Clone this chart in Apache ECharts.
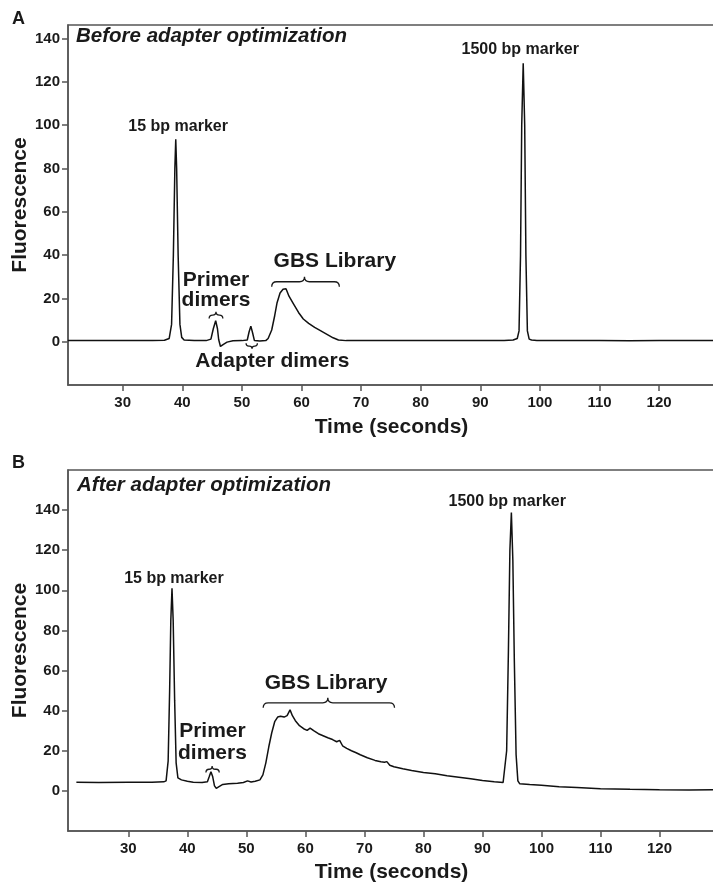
<!DOCTYPE html>
<html><head><meta charset="utf-8">
<script src="https://cdn.jsdelivr.net/npm/echarts@6/dist/echarts.min.js"></script>
<style>html,body{margin:0;padding:0;background:#fff}#c{width:713px;height:884px}</style>
</head><body><div id="c"></div>
<script>
// ---------- data ----------
const xTicks = [30, 40, 50, 60, 70, 80, 90, 100, 110, 120];
const yTicks = [0, 20, 40, 60, 80, 100, 120, 140];

const timeA = [20.8, 25, 30, 35, 37, 37.8, 38.2, 38.5, 38.75, 38.9, 39.05, 39.3, 39.6, 39.9, 40.3, 42, 44, 44.8, 45.2, 45.6, 45.9, 46.1, 46.4, 46.9, 47.5, 48.5, 50, 50.9, 51.2, 51.5, 51.8, 52.1, 52.4, 53.0, 54, 54.4, 55, 55.5, 55.9, 56.4, 56.9, 57.4, 57.9, 58.6, 59.5, 60.3, 61.2, 62.2, 63.1, 64.2, 65.3, 66.2, 67.5, 70, 75, 80, 85, 90, 94, 95.5, 96.2, 96.5, 96.75, 96.95, 97.2, 97.45, 97.65, 97.9, 98.2, 98.6, 99.5, 105, 110, 115, 120, 125, 129.4];
const fluorA = [0.5, 0.5, 0.6, 0.5, 0.7, 1.5, 8, 40, 80, 93.5, 80, 40, 8, 2, 0.8, 0.6, 0.5, 1.2, 6, 9.7, 6, 1.0, -2.2, -1.2, -0.2, 0.4, 0.5, 0.8, 4.5, 7.2, 4, 0.5, -0.3, 0.3, 0.5, 1.5, 5.4, 12, 18, 22.5, 24.2, 24.5, 21, 17.7, 13.5, 10.5, 8.5, 6.6, 5.2, 3.5, 1.8, 0.8, 0.5, 0.6, 0.6, 0.5, 0.6, 0.6, 0.6, 0.8, 1.5, 5, 40, 100, 128.6, 100, 40, 5, 1.2, 0.8, 0.6, 0.5, 0.6, 0.4, 0.5, 0.5, 0.5];

const timeB = [21.2, 25, 30, 34, 36, 36.4, 36.75, 37.0, 37.2, 37.4, 37.6, 37.85, 38.1, 38.4, 39, 40, 41, 42.5, 43.4, 43.7, 44.0, 44.3, 44.6, 44.9, 45.3, 46, 47, 48.5, 49.5, 50.2, 50.8, 51.5, 52.3, 52.8, 53.3, 53.8, 54.3, 54.8, 55.3, 55.8, 56.4, 56.9, 57.4, 57.8, 58.3, 59.0, 59.7, 60.3, 60.8, 61.4, 62.2, 63.0, 63.8, 64.6, 65.3, 65.8, 66.3, 67.0, 67.8, 68.6, 69.3, 70.5, 71.8, 72.8, 73.4, 73.8, 74.3, 75, 76.5, 78, 80, 82, 84, 86, 88, 90, 92, 93.5, 93.8, 94.1, 94.4, 94.65, 94.9, 95.15, 95.4, 95.7, 96, 96.3, 98, 100, 103, 106, 110, 115, 120, 125, 129.4];
const fluorB = [4.3, 4.2, 4.3, 4.3, 4.5, 5, 15, 50, 85, 101, 85, 45, 14, 6.5, 5.5, 4.8, 4.3, 4.2, 4.6, 7, 9.6, 7, 2.5, 1.3, 2, 3.2, 3.6, 3.8, 4.2, 5, 4.4, 4.8, 5.5, 8, 14, 22, 29, 34.5, 36.8, 37.2, 36.8, 37.5, 40.4, 37.5, 35, 32.5, 31, 30.2, 31.3, 30, 28.5, 27.5, 26.5, 25.6, 24.5, 25.2, 22.5, 21.2, 20, 19, 18, 16.5, 15.2, 14.5, 14.3, 14.6, 12.8, 12, 11, 10.2, 9.2, 8.5, 7.6, 6.8, 6, 5.2, 4.5, 4.2, 5, 20, 70, 120, 138.8, 115, 65, 18, 5, 3.6, 3.2, 2.8, 2.1, 1.7, 1.1, 0.8, 0.6, 0.5, 0.6];

// annotation anchors in data coordinates [time, fluorescence, text]
const markerLabelsA = [[39.3, 99.3, '15 bp marker'], [96.7, 135.1, '1500 bp marker']];
const regionLabelsA = [[45.65, 23.8, 'Primer\ndimers'], [55.1, -9.2, 'Adapter dimers'], [65.6, 37.0, 'GBS Library']];
const markerLabelsB = [[37.73, 106.1, '15 bp marker'], [94.2, 144.3, '1500 bp marker']];
const regionLabelsB = [[44.25, 24.2, 'Primer\ndimers'], [63.5, 53.7, 'GBS Library']];
// braces [start time, end time, fluorescence, tip time, direction (-1 up, 1 down)]
const bracesA = [[44.5, 46.8, 12.3, 45.65, -1], [50.7, 52.6, -2.0, 51.7, 1], [55.0, 66.35, 27.7, 60.5, -1]];
const bracesB = [[43.15, 45.4, 10.8, 44.2, -1], [52.85, 75.1, 43.9, 63.8, -1]];

// ---------- chart ----------
const FONT = '"Liberation Sans", Arial, Helvetica, sans-serif';
const INK = '#1a1a1a';
const AXC = '#555';
const zip = (a, b) => a.map((t, i) => [t, b[i]]);

function xAxisDef(gi, min, max, gap) {
  return {
    type: 'value', gridIndex: gi, min: min, max: max,
    name: 'Time (seconds)', nameLocation: 'middle', nameGap: gap, nameMoveOverlap: false,
    nameTextStyle: { fontFamily: FONT, fontSize: 21, fontWeight: 'bold', color: INK },
    axisLine: { show: true, onZero: false, lineStyle: { color: AXC, width: 1.5 } },
    axisTick: { show: true, length: 6, customValues: xTicks, lineStyle: { color: AXC, width: 1.5 } },
    axisLabel: { customValues: xTicks, margin: 10, fontFamily: FONT, fontSize: 15, fontWeight: 'bold', color: INK },
    splitLine: { show: false }
  };
}
function yAxisDef(gi, min, max) {
  return {
    type: 'value', gridIndex: gi, min: min, max: max,
    name: 'Fluorescence', nameLocation: 'middle', nameGap: 37, nameMoveOverlap: false,
    nameTextStyle: { fontFamily: FONT, fontSize: 21, fontWeight: 'bold', color: INK },
    axisLine: { show: true, onZero: false, lineStyle: { color: AXC, width: 1.5 } },
    axisTick: { show: true, length: 6, customValues: yTicks, lineStyle: { color: AXC, width: 1.5 } },
    axisLabel: { customValues: yTicks, margin: 8, fontFamily: FONT, fontSize: 15, fontWeight: 'bold', color: INK },
    splitLine: { show: false }
  };
}
function braceItem(params, api) {
  const t1 = api.value(0), t2 = api.value(1), v = api.value(2), tt = api.value(3), s = api.value(4);
  const p1 = api.coord([t1, v]), p2 = api.coord([t2, v]), pt = api.coord([tt, v]);
  const x1 = p1[0], x2 = p2[0], xt = pt[0], y0 = p1[1];
  const h = Math.min(5, (x2 - x1) / 4);
  const r = Math.min(h, (xt - x1) / 2, (x2 - xt) / 2);
  const ye = y0 - s * h, yt = y0 + s * h;
  const d = 'M' + x1 + ' ' + ye + ' Q' + x1 + ' ' + y0 + ' ' + (x1 + r) + ' ' + y0 +
    ' L' + (xt - r) + ' ' + y0 + ' Q' + xt + ' ' + y0 + ' ' + xt + ' ' + yt +
    ' Q' + xt + ' ' + y0 + ' ' + (xt + r) + ' ' + y0 +
    ' L' + (x2 - r) + ' ' + y0 + ' Q' + x2 + ' ' + y0 + ' ' + x2 + ' ' + ye;
  return { type: 'path', shape: { pathData: d }, style: { stroke: INK, fill: 'none', lineWidth: 1.3 } };
}
function labelSeries(gi, data, size, lh) {
  return {
    type: 'scatter', xAxisIndex: gi, yAxisIndex: gi, data: data, symbolSize: 0, silent: true,
    itemStyle: { opacity: 1 },
    label: { show: true, position: 'inside', formatter: p => p.value[2], fontFamily: FONT,
      fontSize: size, fontWeight: 'bold', color: INK, opacity: 1, lineHeight: lh }
  };
}
function traceSeries(gi, t, v) {
  return { type: 'line', xAxisIndex: gi, yAxisIndex: gi, data: zip(t, v), showSymbol: false,
    symbol: 'none', lineStyle: { color: '#111', width: 1.5 }, silent: true, animation: false };
}
function braceSeries(gi, data) {
  return { type: 'custom', xAxisIndex: gi, yAxisIndex: gi, data: data, renderItem: braceItem,
    encode: { x: [0, 1, 3], y: 2 }, clip: false, silent: true };
}

const chart = echarts.init(document.getElementById('c'), null, { renderer: 'canvas' });
chart.setOption({
  backgroundColor: '#fff',
  animation: false,
  title: [
    { text: 'A', left: 12, top: 10, padding: 0, textStyle: { fontFamily: FONT, fontSize: 18, fontWeight: 'bold', color: INK } },
    { text: 'B', left: 12, top: 454, padding: 0, textStyle: { fontFamily: FONT, fontSize: 18, fontWeight: 'bold', color: INK } },
    { text: 'Before adapter optimization', left: 76, top: 26, padding: 0, textStyle: { fontFamily: FONT, fontSize: 20.5, fontWeight: 'bold', fontStyle: 'italic', color: INK } },
    { text: 'After adapter optimization', left: 77, top: 475, padding: 0, textStyle: { fontFamily: FONT, fontSize: 20.5, fontWeight: 'bold', fontStyle: 'italic', color: INK } }
  ],
  grid: [
    { left: 68, top: 25, right: -2, height: 360, outerBoundsMode: 'none', containLabel: false, show: true, borderColor: AXC, borderWidth: 1.5, backgroundColor: 'transparent' },
    { left: 68, top: 470, right: -2, height: 361, outerBoundsMode: 'none', containLabel: false, show: true, borderColor: AXC, borderWidth: 1.5, backgroundColor: 'transparent' }
  ],
  xAxis: [xAxisDef(0, 20.82, 129.38, 32), xAxisDef(1, 19.78, 129.4, 31)],
  yAxis: [yAxisDef(0, -20, 146.3), yAxisDef(1, -20, 160)],
  series: [
    traceSeries(0, timeA, fluorA),
    traceSeries(1, timeB, fluorB),
    braceSeries(0, bracesA),
    braceSeries(1, bracesB),
    labelSeries(0, markerLabelsA, 16, 18),
    labelSeries(0, regionLabelsA, 21, 20),
    labelSeries(1, markerLabelsB, 16, 18),
    labelSeries(1, regionLabelsB, 21, 21.6)
  ]
});
</script></body></html>
